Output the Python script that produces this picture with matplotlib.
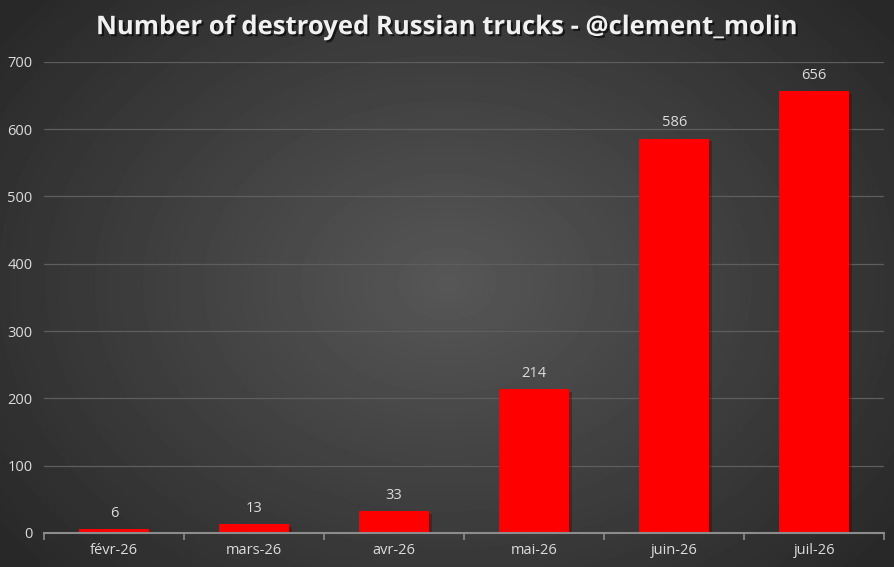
import numpy as np
import matplotlib
matplotlib.use("Agg")
import matplotlib.pyplot as plt
import matplotlib.patheffects as pe

# data
months = ["févr-26", "mars-26", "avr-26", "mai-26", "juin-26", "juil-26"]
trucks = [6, 13, 33, 214, 586, 656]
yticks = [0, 100, 200, 300, 400, 500, 600, 700]

plt.rcParams['font.family'] = ['Open Sans', 'DejaVu Sans']

fig = plt.figure(figsize=(8.95, 5.67), dpi=100)

# radial gradient background
bg = fig.add_axes([0, 0, 1, 1], zorder=0)
yy, xx = np.mgrid[0:567, 0:895]
r = np.sqrt(((xx - 447) / 560.0) ** 2 + ((yy - 283) / 420.0) ** 2)
shade = 0.34 - 0.18 * np.clip(r, 0, 1)
bg.imshow(shade, cmap="gray", vmin=0, vmax=1, aspect="auto",
          extent=[0, 1, 0, 1], interpolation="bilinear")
bg.axis("off")

ax = fig.add_axes([0.049, 0.06, 0.939, 0.831], zorder=1)
ax.patch.set_alpha(0)

x = np.arange(len(months))
bars = ax.bar(x, trucks, width=0.5, color="#ff0000", zorder=3,
              path_effects=[pe.SimplePatchShadow(offset=(2, -2), alpha=0.35),
                            pe.Normal()])
for xi, v in zip(x, trucks):
    ax.text(xi, v + 12, str(v), ha="center", va="bottom",
            color="#dcdcdc", fontsize=10.5)

ax.set_xlim(-0.5, len(months) - 0.5)
ax.set_ylim(0, 700)
ax.set_yticks(yticks)
ax.set_xticks(x)
ax.set_xticklabels(months)
ax.tick_params(axis="y", length=0, colors="#dcdcdc", labelsize=10.5, pad=8)
ax.tick_params(axis="x", length=0, colors="#dcdcdc", labelsize=10.5, pad=7)

# boundary tick marks like Excel
ax.set_xticks(np.arange(-0.5, len(months)), minor=True)
ax.tick_params(axis="x", which="minor", length=5, color="#8c8c8c", width=1.2)

ax.grid(axis="y", color="#5e5e5e", linewidth=0.9, zorder=0)
for s in ["top", "right", "left"]:
    ax.spines[s].set_visible(False)
ax.spines["bottom"].set_color("#8c8c8c")
ax.spines["bottom"].set_linewidth(1.5)
ax.spines["bottom"].set_zorder(4)

fig.text(0.5, 0.953, "Number of destroyed Russian trucks - @clement_molin",
         ha="center", va="center", color="#f0f0f0", fontsize=18.5,
         fontweight="bold",
         path_effects=[pe.withSimplePatchShadow(offset=(1.5, -1.5),
                                                 shadow_rgbFace="black",
                                                 alpha=0.6)])

fig.savefig("out.png", dpi=100)
